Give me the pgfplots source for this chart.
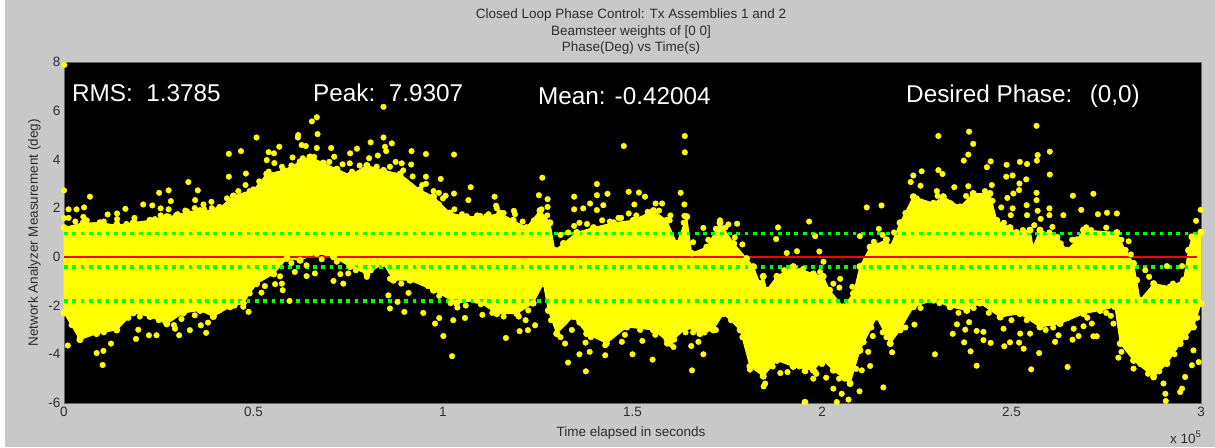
\documentclass[border=0pt]{standalone}
\usepackage{fontspec}
\setmainfont{Liberation Sans}
\usepackage{pgfplots}
\usepackage{pgfplotstable}
\pgfplotsset{compat=1.18}
\definecolor{figgrey}{RGB}{200,200,200}
\definecolor{txt}{RGB}{45,45,45}
\definecolor{yel}{RGB}{255,255,0}
\definecolor{grn}{RGB}{0,255,0}
\definecolor{rd}{RGB}{255,0,0}
% envelope of the dense cloud: upper edge left to right, lower edge right to left
\pgfplotstableread{
x y
0 1.2
.051 1.4
.095 1.4
.139 1.3
.183 1.4
.227 1.5
.271 1.65
.297 1.7
.324 1.85
.359 1.9
.403 1.9
.447 2.5
.5 2.75
.535 3.4
.579 3.55
.623 3.9
.649 4.1
.684 3.85
.72 3.6
.755 3.35
.799 3.75
.843 3.55
.887 3.4
.939 2.75
.975 2.47
1.018 1.8
1.062 1.65
1.115 1.65
1.15 1.8
1.185 1.5
1.22 1.2
1.256 1.9
1.282 1.4
1.295 .27
1.318 .55
1.353 1.0
1.397 1.2
1.45 1.4
1.502 1.5
1.555 1.9
1.59 1.5
1.617 .55
1.643 1.65
1.656 .15
1.696 .4
1.731 1.4
1.767 .55
1.801 -.07
1.819 -.4
1.836 -1.1
1.845 -.8
1.854 -1.37
1.881 -.8
1.924 -.4
1.977 -.7
2.003 -.8
2.02 -1.37
2.056 -2.05
2.083 -1.5
2.1 -.4
2.127 .4
2.17 .7
2.18 .4
2.206 1.4
2.241 2.47
2.294 2.2
2.32 2.47
2.364 2.05
2.399 2.6
2.443 2.6
2.461 1.5
2.496 1.2
2.513 1.0
2.549 1.1
2.557 .4
2.575 1.1
2.62 .8
2.646 .27
2.672 .7
2.69 1.1
2.778 1.0
2.8 .27
2.822 -.27
2.83 -.96
2.839 -1.78
2.875 -1.1
2.919 -1.23
2.954 -.96
2.967 .27
2.976 .82
3.0 1.0
3.0 -1.92
2.98 -2.88
2.945 -3.56
2.91 -4.38
2.875 -4.93
2.822 -4.25
2.787 -3.56
2.773 -2.05
2.734 -2.2
2.69 -2.33
2.628 -2.74
2.575 -2.88
2.522 -2.33
2.47 -2.47
2.417 -1.9
2.382 -2.2
2.338 -2.05
2.294 -1.78
2.241 -2.05
2.206 -3.0
2.18 -3.56
2.144 -2.47
2.1 -3.84
2.074 -5.2
2.03 -4.65
2.003 -4.25
1.977 -4.65
1.924 -4.5
1.881 -4.25
1.845 -4.9
1.81 -4.5
1.784 -3.0
1.74 -2.33
1.713 -3.0
1.678 -3.15
1.643 -2.88
1.599 -3.55
1.555 -3.0
1.485 -2.88
1.431 -3.55
1.379 -3.15
1.344 -2.45
1.3 -3.15
1.278 -2.2
1.265 -1.1
1.238 -1.9
1.195 -2.33
1.142 -2.33
1.089 -1.78
1.036 -1.9
.975 -1.37
.913 -.96
.869 -.96
.843 -.27
.799 -.7
.755 -.4
.711 0
.667 .14
.623 -.14
.588 -.07
.553 -.7
.508 -1.1
.473 -1.9
.438 -2.05
.394 -2.45
.359 -2.2
.315 -2.3
.271 -2.75
.227 -2.45
.183 -2.3
.139 -3.0
.086 -3.15
.042 -3.4
0 -2.3
}\bandtable
% individual outlying samples
\pgfplotstableread{
x y
.001 7.88
0 2.73
.0685 2.47
.012 1.95
.033 1.95
.053 2.03
.051 1.64
0 1.59
.01 -3.64
.086 -3.95
.104 -3.86
.102 -4.44
.124 -3.56
.115 1.74
.14 1.78
.162 1.97
.14 1.37
.186 1.44
.209 2.15
.233 2.11
.251 2.63
.255 1.99
.276 2.73
.282 2.29
.328 3.07
.353 2.73
.346 2.33
.389 2.26
.368 2.15
.435 4.23
.467 4.34
.435 3.29
.48 3.42
.508 4.9
.479 2.95
.568 4.52
.54 4.3
.554 4.25
.535 3.97
.618 5.0
.617 4.9
.627 4.59
.638 4.55
.603 4.08
.667 5.73
.654 5.56
.669 5.04
.667 4.47
.705 4.47
.713 4.11
.773 4.44
.755 4.25
.809 4.7
.843 6.16
.843 4.9
.865 4.66
.847 4.52
.85 4.34
.917 4.34
.916 3.79
.891 3.84
.828 4.16
.754 3.84
.042 -3.29
.19 -3.37
.224 -3.22
.244 -3.22
.304 -3.22
.332 -3.01
.375 -3.12
.361 -2.81
.196 -2.99
.293 -2.95
.487 -2.26
.473 -2.05
.521 -1.47
.557 -1.12
.577 -1.37
.575 -1.1
.595 -1.81
.609 -.62
.64 -.79
.662 -.68
.711 -.99
.729 -.71
.737 -1.1
.75 -.68
.799 -.82
.856 -1.58
.86 -2.12
.88 -1.85
.898 -2.26
.909 -1.48
.955 4.22
1.029 4.2
.994 3.2
.955 3.29
1.073 2.86
1.029 2.6
1.007 2.51
.989 2.63
1.067 2.33
.989 2.16
1.136 2.47
1.142 1.99
1.187 1.89
1.098 1.68
1.262 3.25
1.253 2.53
1.276 2.37
1.276 2.05
1.346 2.47
1.346 1.95
1.346 1.27
1.37 1.99
1.388 2.19
1.406 2.99
1.406 2.53
1.434 2.59
1.423 2.12
1.406 1.92
1.477 4.55
1.49 2.67
1.517 2.64
1.533 2.47
1.505 2.15
1.49 1.78
1.463 1.6
1.638 4.96
1.638 4.29
1.627 2.63
1.637 2.15
1.637 1.68
1.578 2.19
1.561 2.19
1.598 1.5
1.687 1.19
1.731 1.5
1.753 1.33
1.776 1.36
1.79 .51
1.884 1.21
1.879 .73
1.966 1.45
1.934 .23
1.907 .16
.948 -2.3
.979 -2.74
.99 -2.51
1.001 -3.25
1.024 -4.08
1.027 -2.6
1.058 -2.51
1.038 -2.08
1.104 -2.38
1.166 -3.33
1.202 -3.05
1.224 -3.01
1.243 -2.81
1.218 -2.6
1.33 -4.34
1.322 -3.56
1.377 -4.7
1.36 -4.0
1.387 -3.9
1.376 -3.52
1.428 -4.04
1.428 -3.63
1.472 -3.49
1.5 -4.0
1.526 -3.45
1.553 -4.22
1.591 -3.56
1.608 -3.7
1.657 -4.66
1.655 -3.66
1.674 -3.49
1.687 -4.0
1.956 -5.96
1.85 -5.2
1.846 -5.32
1.81 -4.63
1.89 -4.77
1.909 -4.73
1.922 -4.38
1.956 -4.7
1.985 -4.8
1.982 .85
1.993 .22
2.004 -.2
1.995 -.62
2.048 -.9
2.03 -1.1
2.046 -1.26
2.08 -1.23
2.118 2.03
2.157 2.11
2.1 .85
2.15 1.15
2.137 .62
2.241 3.34
2.263 3.51
2.234 3.07
2.26 2.92
2.307 4.96
2.388 5.14
2.399 4.64
2.386 4.2
2.374 3.95
2.307 3.56
2.318 3.4
2.349 2.86
2.303 2.7
2.386 2.9
2.448 2.95
2.445 3.92
2.435 3.68
2.487 3.78
2.486 3.29
2.503 3.34
2.522 3.9
2.541 3.81
2.566 5.38
2.569 4.18
2.567 3.95
2.601 4.32
2.601 3.38
2.539 3.18
2.521 3.01
2.52 2.74
2.505 2.6
2.489 2.42
2.566 2.63
2.566 2.33
2.54 2.12
2.473 2.03
2.503 1.99
2.498 1.71
2.541 1.71
2.569 1.89
2.6 1.99
2.6 1.71
2.577 1.56
2.637 1.71
2.608 1.23
2.662 2.51
2.716 2.59
2.684 1.93
2.728 1.75
2.752 1.81
2.778 1.78
2.697 1.21
2.809 .64
2.999 1.93
2.987 1.48
2.999 1.03
2.863 -.82
2.91 -.38
2.95 -.38
2.853 -.55
2.926 -1.1
2.95 -1.1
1.954 -5.96
1.954 -4.68
1.982 -4.73
1.977 -5.0
2.011 -4.96
2.03 -5.41
2.052 -5.62
2.039 -5.96
2.07 -5.86
2.099 -5.52
2.162 -5.36
2.127 -4.48
2.105 -4.66
2.122 -3.9
2.134 -3.25
2.185 -3.92
2.244 -2.78
2.298 -4.0
2.345 -3.16
2.375 -3.51
2.392 -3.88
2.408 -4.47
2.378 -2.99
2.408 -3.04
2.426 -3.08
2.426 -3.42
2.445 -3.53
2.356 -2.77
2.388 -2.68
2.481 -3.67
2.496 -3.51
2.52 -3.52
2.479 -2.95
2.523 -3.15
2.532 -3.77
2.552 -4.62
2.573 -3.95
2.549 -3.15
2.648 -4.52
2.615 -3.49
2.624 -3.22
2.661 -3.4
2.677 -3.25
2.664 -2.95
2.69 -2.85
2.716 -3.26
2.725 -3.26
2.712 -2.74
2.769 -2.74
2.762 -2.42
2.782 -4.14
2.822 -4.59
2.901 -5.2
2.906 -5.62
2.907 -5.92
2.95 -5.41
2.945 -5.55
2.958 -4.93
2.976 -4.45
2.994 -4.32
2.98 -3.84
2.857 -4.32
.012 1.6
.03 1.45
.06 1.5
.08 1.3
.105 1.45
.14 1.55
.165 1.35
.186 1.6
.205 1.35
.24 1.55
.255 1.7
.276 1.95
.276 1.65
.30 1.75
.32 1.9
.345 2.0
.37 1.95
.39 2.0
.41 2.05
.43 2.4
.46 2.7
.49 2.7
.515 3.1
.54 3.5
.555 3.85
.575 3.7
.6 3.75
.63 4.05
.66 4.1
.70 3.9
.735 3.8
.76 3.5
.78 3.75
.805 4.05
.825 3.7
.86 3.7
.875 3.9
.895 3.55
.92 3.3
.945 2.95
.955 3.0
.975 2.7
1.0 2.4
1.03 1.95
1.05 1.75
1.09 1.7
1.12 1.75
1.14 2.1
1.16 1.8
1.19 1.75
1.21 1.45
1.24 1.5
1.26 1.95
1.275 1.7
.02 -2.8
.042 -3.1
.06 -3.0
.08 -3.1
.105 -3.1
.125 -2.9
.15 -2.6
.17 -2.5
.2 -2.45
.25 -2.6
.29 -2.8
.31 -2.55
.345 -2.4
.38 -2.7
.41 -2.2
.45 -2.0
.49 -1.5
.53 -1.2
.57 -.8
.6 -.25
.64 -.35
.68 -.1
.72 -.2
.77 -.55
.81 -.55
.86 -.9
.89 -1.1
.93 -.9
.96 -1.2
.99 -1.6
1.02 -1.9
1.06 -2.0
1.1 -1.95
1.13 -2.3
1.16 -2.45
1.2 -2.45
1.225 -2.2
1.285 -2.6
1.31 -3.3
1.34 -3.0
1.36 -2.7
1.39 -3.3
1.42 -3.3
1.45 -3.0
1.48 -3.2
1.52 -3.0
1.56 -3.2
1.59 -3.4
1.61 -3.4
1.64 -3.1
1.66 -3.1
1.69 -3.1
1.72 -3.0
1.76 -2.6
1.79 -3.3
1.815 -4.3
1.83 -4.6
1.87 -4.5
1.90 -4.2
1.94 -4.5
1.96 -4.4
1.31 .9
1.33 1.0
1.36 1.4
1.38 1.35
1.42 1.5
1.44 1.45
1.47 1.6
1.51 1.7
1.54 1.85
1.57 1.9
1.6 1.7
1.635 1.4
1.66 .6
1.7 .7
1.72 1.15
1.745 1.2
1.77 .8
1.9 -.55
1.95 -.5
2.14 .5
2.16 .9
2.19 1.0
2.22 1.8
2.25 2.4
2.27 2.1
2.305 2.5
2.34 2.2
2.38 2.5
2.41 2.3
2.43 2.7
2.45 2.3
2.48 1.4
2.53 1.1
2.56 1.3
2.6 1.0
2.63 .55
2.66 .7
2.71 1.1
2.75 1.2
2.79 .7
2.815 .1
2.0 -4.4
2.02 -4.3
2.045 -5.0
2.06 -5.0
2.09 -4.6
2.11 -3.5
2.13 -2.9
2.16 -3.1
2.17 -3.3
2.19 -3.1
2.22 -2.9
2.26 -2.1
2.31 -1.9
2.36 -2.3
2.40 -2.1
2.44 -2.3
2.5 -2.6
2.54 -2.6
2.59 -3.0
2.61 -2.9
2.65 -2.5
2.7 -2.5
2.75 -2.3
2.79 -3.9
2.84 -4.4
2.86 -4.8
2.89 -4.7
2.93 -4.0
2.96 -3.3
2.99 -2.5
}\pointstable
\begin{document}
\begin{tikzpicture}[x=1pt,y=1pt]
\useasboundingbox (-64,-44) rectangle (1151,403);
\fill[white] (-64,-44) rectangle (1151,403);
\fill[figgrey] (-59,-44) rectangle (1151,403);
\begin{axis}[
  at={(0,0)},anchor=south west,
  scale only axis,width=1137pt,height=341pt,
  xmin=0,xmax=3,ymin=-6,ymax=8,
  clip=false,
  axis background/.style={fill=black},
  axis line style={draw=black!60,line width=0.8pt},
  axis on top=false,
  xtick={0,0.5,1,1.5,2,2.5,3},
  xticklabels={0,0.5,1,1.5,2,2.5,3},
  ytick={-6,-4,-2,0,2,4,6,8},
  yticklabels={-6,-4,-2,0,2,4,6,8},
  major tick length=0pt,
  tick label style={font=\fontsize{13.5}{13.5}\selectfont,text=txt},
  xticklabel style={yshift=-1pt},
]
\addplot[fill=yel,draw=yel,line width=1pt,mark=*,mark size=3pt,mark options={fill=yel,draw=yel,solid}] table[x=x,y=y]{\bandtable} -- cycle;
\addplot[only marks,mark=*,mark size=2.8pt,mark options={fill=yel,draw=yel,line width=0.4pt}] table[x=x,y=y]{\pointstable};
\addplot[draw=rd,line width=2pt] coordinates {(0,0) (2.99,0)};
\addplot[draw=grn,line width=3.8pt,dash pattern=on 3.8pt off 4.5pt] coordinates {(0,0.958) (3,0.958)};
\addplot[draw=grn,line width=3.8pt,dash pattern=on 3.8pt off 4.5pt] coordinates {(0,-0.42) (3,-0.42)};
\addplot[draw=grn,line width=3.8pt,dash pattern=on 3.8pt off 4.5pt] coordinates {(0,-1.798) (3,-1.798)};
\end{axis}
\def\bigf{\fontsize{24.3}{24.3}\selectfont}
\node[anchor=base west,inner sep=0,text=white,font=\bigf] at (8,301) {RMS:\ \ 1.3785};
\node[anchor=base west,inner sep=0,text=white,font=\bigf] at (249,301) {Peak:\ \ 7.9307};
\node[anchor=base west,inner sep=0,text=white,font=\bigf] at (474,298) {Mean: -0.42004};
\node[anchor=base west,inner sep=0,text=white,font=\bigf] at (842,300) {Desired Phase:\ \ \,(0,0)};
\def\smf{\fontsize{13.5}{13.5}\selectfont}
\node[anchor=base,inner sep=0,text=txt,font=\smf] at (567,384) {Closed Loop Phase Control: Tx Assemblies 1 and 2};
\node[anchor=base,inner sep=0,text=txt,font=\smf] at (567,367) {Beamsteer weights of [0 0]};
\node[anchor=base,inner sep=0,text=txt,font=\smf] at (567,351) {Phase(Deg) vs Time(s)};
\node[anchor=base,inner sep=0,text=txt,font=\smf] at (567,-34) {Time elapsed in seconds};
\node[anchor=base,inner sep=0,text=txt,font=\smf,rotate=90] at (-26,170) {Network Analyzer Measurement (deg)};
\node[anchor=base west,inner sep=0,text=txt,font=\smf] at (1106,-40) {x 10\textsuperscript{5}};
\end{tikzpicture}
\end{document}
